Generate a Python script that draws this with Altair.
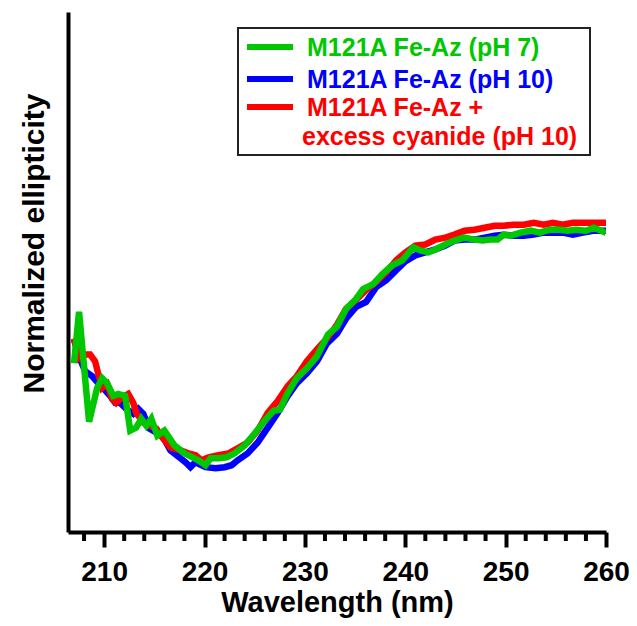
import altair as alt
import pandas as pd

# ---- data ----
series_names = ["M121A Fe-Az (pH 10)", "M121A Fe-Az + excess cyanide (pH 10)", "M121A Fe-Az (pH 7)"]
series_colors = ["#0000FF", "#FF0000", "#00C800"]

blue_wl = [207.0, 207.5, 208.1, 208.8, 209.4, 209.9, 210.6, 211.1, 211.6, 212.2, 212.9, 213.4, 213.9,
           214.5, 215.2, 215.8, 216.6, 217.6, 218.1, 218.6, 219.1, 220.1, 221.1, 222.0, 222.7, 223.3,
           224.3, 225.3, 226.3, 227.3, 228.3, 229.2, 230.2, 231.2, 232.2, 233.2, 234.1, 235.1, 236.1,
           237.1, 238.1, 239.1, 240.0, 241.0, 242.0, 243.0, 244.0, 244.9, 245.9, 246.9, 247.9, 248.9,
           249.8, 250.8, 251.8, 252.8, 253.8, 254.7, 255.7, 256.7, 257.7, 258.7, 260.0]
blue_val = [-11.3, -13.0, -14.5, -15.0, -15.7, -16.2, -17.0, -17.7, -17.7, -18.3, -18.8, -18.3, -18.8,
            -20.3, -20.7, -21.0, -22.5, -23.3, -23.7, -24.2, -23.7, -24.2, -24.3, -24.2, -24.0, -23.5,
            -22.8, -21.7, -20.2, -18.7, -17.0, -15.7, -14.7, -13.5, -11.7, -10.7, -9.2, -8.0, -7.5,
            -6.0, -5.3, -4.3, -3.4, -2.8, -2.5, -2.2, -1.8, -1.3, -1.2, -1.2, -1.0, -0.8,
            -0.7, -0.8, -0.8, -0.7, -0.5, -0.5, -0.5, -0.7, -0.5, -0.3, -0.3]

red_wl = [207.0, 207.5, 208.1, 208.6, 209.1, 209.4, 209.8, 210.3, 210.8, 211.2, 211.7, 212.4, 212.9,
          213.2, 213.9, 214.5, 215.2, 215.8, 216.6, 217.6, 218.4, 219.1, 219.7, 220.4, 221.4, 222.4,
          223.3, 224.3, 225.3, 226.3, 227.3, 228.3, 229.2, 230.2, 231.2, 232.2, 233.2, 234.1, 235.1,
          236.1, 237.1, 238.1, 239.1, 240.0, 241.0, 242.0, 243.0, 244.0, 244.9, 245.9, 246.9, 247.9,
          248.9, 249.8, 250.8, 251.8, 252.8, 253.8, 254.7, 255.7, 256.7, 257.7, 258.7, 260.0]
red_val = [-11.2, -13.2, -12.8, -12.8, -13.5, -14.7, -16.2, -15.8, -17.3, -17.7, -17.2, -16.8, -17.7,
           -18.7, -19.7, -20.0, -20.3, -21.2, -22.2, -22.5, -22.8, -23.0, -23.5, -23.2, -23.0, -22.8,
           -22.3, -21.7, -20.5, -18.7, -17.5, -16.0, -15.0, -13.5, -12.3, -11.2, -9.8, -8.2, -7.3,
           -6.3, -5.5, -4.5, -3.3, -2.5, -1.8, -1.7, -1.2, -1.0, -0.7, -0.3, -0.2, 0.0,
           0.2, 0.2, 0.3, 0.3, 0.5, 0.3, 0.5, 0.3, 0.5, 0.5, 0.5, 0.5]

green_wl = [207.0, 207.5, 208.5, 209.3, 209.8, 210.3, 210.9, 211.4, 212.1, 212.6, 213.2, 213.7, 214.2,
            214.7, 215.3, 216.0, 217.0, 218.0, 219.4, 220.1, 220.6, 221.4, 222.2, 223.0, 224.0, 225.0,
            226.0, 226.9, 227.5, 228.3, 229.2, 230.2, 231.2, 232.3, 233.2, 234.1, 235.1, 235.8, 236.8,
            237.7, 238.7, 239.7, 240.8, 241.5, 242.3, 243.0, 244.0, 244.9, 245.9, 246.9, 247.7, 248.5,
            249.2, 249.8, 250.5, 251.5, 252.5, 253.4, 254.4, 255.4, 256.2, 257.0, 258.0, 258.8, 260.0]
green_val = [-13.7, -8.5, -19.6, -16.2, -15.2, -15.7, -17.0, -16.8, -17.0, -20.5, -20.2, -19.3, -20.0,
             -19.3, -21.0, -20.5, -22.0, -22.8, -23.5, -24.0, -23.3, -23.3, -23.2, -22.8, -22.0, -20.8,
             -19.5, -18.5, -18.4, -16.7, -15.2, -14.2, -13.0, -10.8, -10.0, -8.2, -7.2, -6.2, -5.7,
             -4.7, -3.8, -3.3, -2.0, -2.3, -2.5, -2.2, -1.7, -1.3, -1.0, -1.2, -1.3, -1.2,
             -1.2, -0.7, -0.8, -0.5, -0.3, -0.5, -0.2, -0.2, -0.3, -0.2, -0.3, 0.0, -0.5]

legend_labels = ["M121A Fe-Az (pH 7)", "M121A Fe-Az (pH 10)", "M121A Fe-Az +", "excess cyanide (pH 10)"]
legend_colors = ["#00C800", "#0000FF", "#FF0000", "#FF0000"]

major_ticks = [210, 220, 230, 240, 250, 260]
minor_ticks = [208, 212, 214, 216, 218, 222, 224, 226, 228, 232, 234, 236, 238,
               242, 244, 246, 248, 252, 254, 256, 258]

X_DOMAIN = [206.4, 260]
Y_DOMAIN = [-30.75, 21.8]
W, H = 538, 520
FONT = "Liberation Sans"

xs = alt.Scale(domain=X_DOMAIN, nice=False, zero=False)
ys = alt.Scale(domain=Y_DOMAIN, nice=False, zero=False)

x_axis = alt.Axis(values=major_ticks, title="Wavelength (nm)", grid=False,
                  domainWidth=4, domainColor="black", tickWidth=4, tickSize=15, tickColor="black",
                  labelFont=FONT, labelFontSize=28, labelFontWeight="bold", labelColor="black",
                  labelPadding=11, labelFlush=False, labelOverlap=False,
                  titleFont=FONT, titleFontSize=29, titleFontWeight="bold", titleColor="black",
                  titleY=79, titleBaseline="alphabetic")
y_axis = alt.Axis(title="Normalized ellipticity", grid=False, ticks=False, labels=False,
                  domainWidth=4, domainColor="black",
                  titleFont=FONT, titleFontSize=30, titleFontWeight="bold", titleColor="black",
                  titleAngle=270, titleX=-25, titleY=231, titleAlign="center",
                  titleBaseline="alphabetic")


def series_layer(wl, val, color):
    df = pd.DataFrame({"wl": wl, "val": val})
    return alt.Chart(df).mark_line(color=color, strokeWidth=6.5, clip=True).encode(
        x=alt.X("wl:Q", scale=xs, axis=x_axis),
        y=alt.Y("val:Q", scale=ys, axis=y_axis),
    )


layers = [
    series_layer(blue_wl, blue_val, series_colors[0]),
    series_layer(red_wl, red_val, series_colors[1]),
    series_layer(green_wl, green_val, series_colors[2]),
]

# minor ticks
minor_df = pd.DataFrame({"wl": minor_ticks})
layers.append(alt.Chart(minor_df).mark_rule(color="black", strokeWidth=4).encode(
    x=alt.X("wl:Q", scale=xs, axis=x_axis),
    y=alt.value(H), y2=alt.value(H + 9)))

# legend box
layers.append(alt.Chart(pd.DataFrame({"a": [0]})).mark_rect(
    fill="white", stroke="#222222", strokeWidth=2).encode(
    x=alt.value(170), x2=alt.value(522), y=alt.value(16), y2=alt.value(143)))

line_y = [35, 67, 95]
for i in range(3):
    layers.append(alt.Chart(pd.DataFrame({"a": [0]})).mark_rule(
        color=legend_colors[i], strokeWidth=6).encode(
        x=alt.value(179), x2=alt.value(225), y=alt.value(line_y[i])))

text_y = [36, 68, 96, 125]
text_x = [239, 239, 239, 234]
for i, lab in enumerate(legend_labels):
    layers.append(alt.Chart(pd.DataFrame({"t": [lab]})).mark_text(
        align="left", baseline="middle", font=FONT, fontSize=25, fontWeight="bold",
        color=legend_colors[i]).encode(
        text="t:N", x=alt.value(text_x[i]), y=alt.value(text_y[i])))

chart = alt.layer(*layers).properties(
    width=W, height=H,
    background="white",
    autosize=alt.AutoSizeParams(type="none"),
    padding={"left": 60, "top": 4, "right": 23, "bottom": 86},
).configure_view(strokeWidth=0)

chart.save("out.html", embed_options={"renderer": "svg", "actions": False})
